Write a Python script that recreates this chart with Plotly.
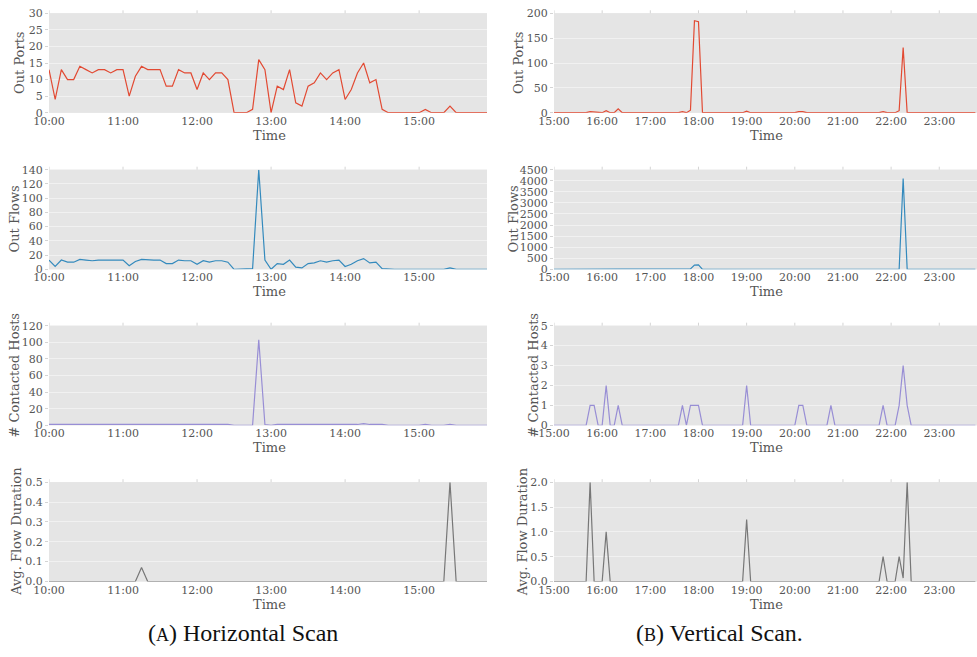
import pandas as pd
import plotly.graph_objects as go

W, H = 977, 657

# ---- time axes (5-minute bins) ----
left_times = pd.date_range("2016-03-01 10:00", "2016-03-01 15:55", freq="5min")
right_times = pd.date_range("2016-03-01 15:00", "2016-03-01 23:45", freq="5min")

# ---- (A) Horizontal scan, 10:00 - 15:55 ----
h_out_ports = [
    13, 4, 13, 10, 10, 14, 13, 12, 13, 13, 12, 13,
    13, 5, 11, 14, 13, 13, 13, 8, 8, 13, 12, 12,
    7, 12, 10, 12, 12, 10, 0, 0, 0, 1, 16, 13,
    0, 8, 7, 13, 3, 2, 8, 9, 12, 10, 12, 13,
    4, 7, 12, 15, 9, 10, 1, 0, 0, 0, 0, 0,
    0, 1, 0, 0, 0, 2, 0, 0, 0, 0, 0, 0,
]
h_out_flows = [
    13, 4, 13, 10, 10, 14, 13, 12, 13, 13, 12, 13,
    13, 5, 11, 14, 13, 13, 13, 8, 8, 13, 12, 12,
    7, 12, 10, 12, 12, 10, 0, 0, 0, 1, 140, 13,
    0, 8, 7, 13, 3, 2, 8, 9, 12, 10, 12, 13,
    4, 7, 12, 15, 9, 10, 1, 0, 0, 0, 0, 0,
    0, 1, 0, 0, 0, 2, 0, 0, 0, 0, 0, 0,
]
h_hosts = [
    1, 1, 1, 1, 1, 1, 1, 1, 1, 1, 1, 1,
    1, 1, 1, 1, 1, 1, 1, 1, 1, 1, 1, 1,
    1, 1, 1, 1, 1, 1, 0, 0, 0, 0, 103, 1,
    0, 1, 1, 1, 1, 1, 1, 1, 1, 1, 1, 1,
    1, 1, 1, 2, 1, 1, 1, 0, 0, 0, 0, 0,
    0, 1, 0, 0, 0, 1, 0, 0, 0, 0, 0, 0,
]
h_avg_duration = [
    0, 0, 0, 0, 0, 0, 0, 0, 0, 0, 0, 0,
    0, 0, 0, 0.07, 0, 0, 0, 0, 0, 0, 0, 0,
    0, 0, 0, 0, 0, 0, 0, 0, 0, 0, 0, 0,
    0, 0, 0, 0, 0, 0, 0, 0, 0, 0, 0, 0,
    0, 0, 0, 0, 0, 0, 0, 0, 0, 0, 0, 0,
    0, 0, 0, 0, 0, 0.5, 0, 0, 0, 0, 0, 0,
]

# ---- (B) Vertical scan, 15:00 - 23:45 ----
v_out_ports = [
    0, 0, 0, 0, 0, 0, 0, 0, 0, 2, 1, 0,        # 15h
    0, 4, 0, 0, 8, 0, 0, 0, 0, 0, 0, 0,        # 16h
    0, 0, 0, 0, 0, 0, 0, 0, 2, 0, 5, 185,      # 17h
    183, 0, 0, 0, 0, 0, 0, 0, 0, 0, 0, 0,      # 18h
    3, 0, 0, 0, 0, 0, 0, 0, 0, 0, 0, 0,        # 19h
    0, 2, 2, 0, 0, 0, 0, 0, 0, 1, 0, 0,        # 20h
    0, 0, 0, 0, 0, 0, 0, 0, 0, 0, 2, 0,        # 21h
    0, 0, 4, 131, 0, 0, 0, 0, 0, 0, 0, 0,      # 22h
    0, 0, 0, 0, 0, 0, 0, 0, 0, 0,              # 23h
]
v_out_flows = [
    0, 0, 0, 0, 0, 0, 0, 0, 0, 2, 1, 0,
    0, 4, 0, 0, 8, 0, 0, 0, 0, 0, 0, 0,
    0, 0, 0, 0, 0, 0, 0, 0, 2, 0, 20, 190,
    200, 0, 0, 0, 0, 0, 0, 0, 0, 0, 0, 0,
    3, 0, 0, 0, 0, 0, 0, 0, 0, 0, 0, 0,
    0, 2, 2, 0, 0, 0, 0, 0, 0, 1, 0, 0,
    0, 0, 0, 0, 0, 0, 0, 0, 0, 0, 2, 0,
    0, 0, 4, 4100, 0, 0, 0, 0, 0, 0, 0, 0,
    0, 0, 0, 0, 0, 0, 0, 0, 0, 0,
]
v_hosts = [
    0, 0, 0, 0, 0, 0, 0, 0, 0, 1, 1, 0,
    0, 2, 0, 0, 1, 0, 0, 0, 0, 0, 0, 0,
    0, 0, 0, 0, 0, 0, 0, 0, 1, 0, 1, 1,
    1, 0, 0, 0, 0, 0, 0, 0, 0, 0, 0, 0,
    2, 0, 0, 0, 0, 0, 0, 0, 0, 0, 0, 0,
    0, 1, 1, 0, 0, 0, 0, 0, 0, 1, 0, 0,
    0, 0, 0, 0, 0, 0, 0, 0, 0, 0, 1, 0,
    0, 0, 1, 3, 1, 0, 0, 0, 0, 0, 0, 0,
    0, 0, 0, 0, 0, 0, 0, 0, 0, 0,
]
v_avg_duration = [
    0, 0, 0, 0, 0, 0, 0, 0, 0, 2.0, 0, 0,
    0, 1.0, 0, 0, 0, 0, 0, 0, 0, 0, 0, 0,
    0, 0, 0, 0, 0, 0, 0, 0, 0, 0, 0, 0,
    0, 0, 0, 0, 0, 0, 0, 0, 0, 0, 0, 0,
    1.25, 0, 0, 0, 0, 0, 0, 0, 0, 0, 0, 0,
    0, 0, 0, 0, 0, 0, 0, 0, 0, 0, 0, 0,
    0, 0, 0, 0, 0, 0, 0, 0, 0, 0, 0.5, 0,
    0, 0, 0.5, 0.07, 2.0, 0, 0, 0, 0, 0, 0, 0,
    0, 0, 0, 0, 0, 0, 0, 0, 0, 0,
]

# ---- tick labels ----
left_hours = ["10:00", "11:00", "12:00", "13:00", "14:00", "15:00"]
right_hours = ["15:00", "16:00", "17:00", "18:00", "19:00", "20:00",
               "21:00", "22:00", "23:00"]

RED, BLUE, PURPLE, GREY = "#E24A33", "#348ABD", "#988ED5", "#777777"
TICK_FONT = dict(family="DejaVu Serif", size=11, color="#555555")
LABEL_FONT = dict(family="DejaVu Serif", size=13, color="#555555")

# rows: (left series, right series, colour, y title, left y max/step, right y max/step, fmt)
rows = [
    (h_out_ports, v_out_ports, RED, "Out Ports", (30, 5), (200, 50), None),
    (h_out_flows, v_out_flows, BLUE, "Out Flows", (140, 20), (4500, 500), None),
    (h_hosts, v_hosts, PURPLE, "# Contacted Hosts", (120, 20), (5, 1), None),
    (h_avg_duration, v_avg_duration, GREY, "Avg. Flow Duration", (0.5, 0.1), (2.0, 0.5), ".1f"),
]

# panel geometry in pixels
col_px = [(49, 487), (554, 977)]
row_px = [(13.3, 112.7), (169.7, 269.3), (325.7, 425.3), (482.2, 581.5)]
ytitle_x = [(20, 519), (14, 513), (14, 533), (17, 522.5)]


def px_x(v):
    return v / W


def px_y(v):
    return 1 - v / H


fig = go.Figure()
layout = {}
annotations = []
shapes = []

day = "2016-03-01 "
for r, (lv, rv, colour, ytitle, lrange, rrange, fmt) in enumerate(rows):
    for c in range(2):
        n = r * 2 + c + 1
        times = left_times if c == 0 else right_times
        vals = lv if c == 0 else rv
        hours = left_hours if c == 0 else right_hours
        ymax, ystep = lrange if c == 0 else rrange
        x0, x1 = col_px[c]
        yt, yb = row_px[r]

        fig.add_trace(go.Scatter(
            x=times, y=vals, mode="lines",
            line=dict(color=colour, width=1.2),
            xaxis=f"x{n}", yaxis=f"y{n}", showlegend=False,
            hoverinfo="skip",
        ))

        xend = day + ("15:55" if c == 0 else "23:47")
        layout[f"xaxis{n}"] = dict(
            domain=[px_x(x0), px_x(x1)], anchor=f"y{n}",
            range=[times[0], xend], automargin=False,
            tickmode="array", tickvals=[day + h for h in hours], ticktext=hours,
            showgrid=False, zeroline=False, showline=False,
            ticks="", tickfont=TICK_FONT,
        )
        nt = int(round(ymax / ystep))
        yvals = [round(i * ystep, 3) for i in range(nt + 1)]
        layout[f"yaxis{n}"] = dict(
            domain=[px_y(yb), px_y(yt)], anchor=f"x{n}",
            range=[0, ymax], automargin=False,
            tickmode="array", tickvals=yvals,
            tickformat=fmt if fmt else None,
            showgrid=True, gridcolor="rgba(255,255,255,0.45)", gridwidth=1,
            zeroline=False, showline=False,
            ticks="outside", ticklen=3, tickcolor="#d4d4d4",
            tickfont=TICK_FONT,
        )
        # light tick marks along the top edge at each hour
        for h in hours:
            shapes.append(dict(
                type="line", xref=f"x{n}", yref="paper",
                x0=day + h, x1=day + h, y0=px_y(yt), y1=px_y(yt - 3),
                line=dict(color="#d4d4d4", width=1),
            ))
        # panel background
        shapes.append(dict(
            type="rect", xref="paper", yref="paper",
            x0=px_x(x0), x1=px_x(x1), y0=px_y(yb), y1=px_y(yt),
            fillcolor="#E5E5E5", line=dict(width=0), layer="below",
        ))
        # axis titles
        annotations.append(dict(
            text="Time", xref="paper", yref="paper",
            x=px_x((x0 + x1) / 2 + 1), y=px_y(yb + 22.5),
            xanchor="center", yanchor="middle", showarrow=False, font=LABEL_FONT,
        ))
        annotations.append(dict(
            text=ytitle, xref="paper", yref="paper", textangle=-90,
            x=px_x(ytitle_x[r][c]), y=px_y((yt + yb) / 2),
            xanchor="center", yanchor="middle", showarrow=False, font=LABEL_FONT,
        ))

CAP_FONT = dict(family="Liberation Serif", size=24, color="#111111")
annotations.append(dict(
    text="(<span style='font-size:18px'>A</span>) Horizontal Scan",
    xref="paper", yref="paper", x=px_x(243), y=px_y(633),
    xanchor="center", yanchor="middle", showarrow=False, font=CAP_FONT,
))
annotations.append(dict(
    text="(<span style='font-size:18px'>B</span>) Vertical Scan.",
    xref="paper", yref="paper", x=px_x(719), y=px_y(633),
    xanchor="center", yanchor="middle", showarrow=False, font=CAP_FONT,
))

fig.update_layout(
    width=W, height=H,
    margin=dict(l=0, r=0, t=0, b=0, autoexpand=False),
    paper_bgcolor="white", plot_bgcolor="#E5E5E5",
    annotations=annotations, shapes=shapes,
    **layout,
)

fig.write_html("out.html", config={"displayModeBar": False})
